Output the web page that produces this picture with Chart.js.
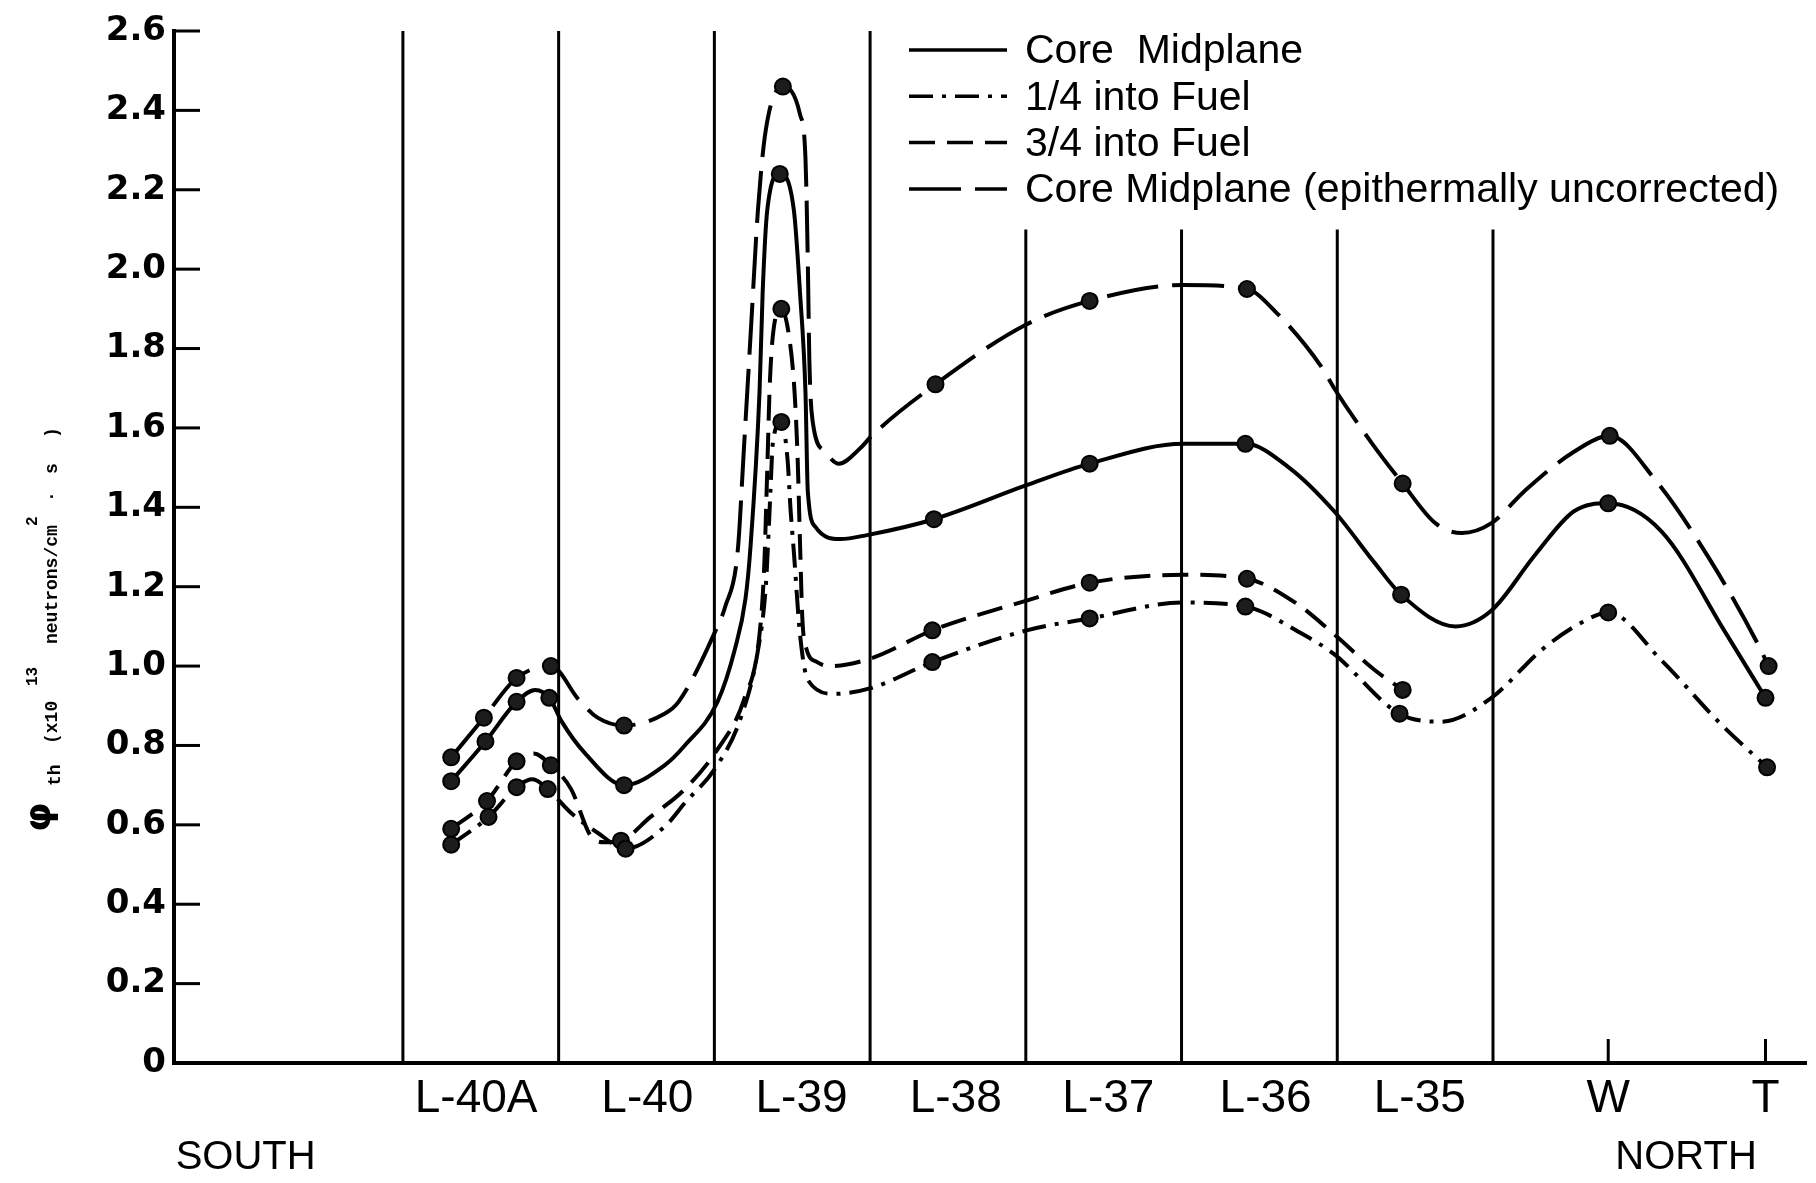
<!DOCTYPE html>
<html>
<head>
<meta charset="utf-8">
<title>Thermal neutron flux traverse</title>
<script src="https://cdn.jsdelivr.net/npm/chart.js@4.4.1/dist/chart.umd.min.js"></script>
<style>
  html, body { margin: 0; padding: 0; background: #fff; }
  #fluxChart { display: block; }
</style>
</head>
<body>
<canvas id="fluxChart" width="1816" height="1183"></canvas>
<script>
// x is the lattice position: 0..7 are the element boundaries L-40A .. L-35
const boundaryX = [0, 1, 2, 3, 4, 5, 6, 7];
const boundaryTop = [2.6, 2.6, 2.6, 2.6, 2.1, 2.1, 2.1, 2.1];

const xTickPos = [-1.01, 0.47, 1.57, 2.56, 3.55, 4.53, 5.54, 6.53, 7.74, 8.24, 8.75];
const xTickLabels = [['', 'SOUTH'], 'L-40A', 'L-40', 'L-39', 'L-38', 'L-37', 'L-36', 'L-35', 'W', ['', 'NORTH'], 'T'];
const tickedLabels = ['W', 'T'];

const yTicks = [0, 0.2, 0.4, 0.6, 0.8, 1.0, 1.2, 1.4, 1.6, 1.8, 2.0, 2.2, 2.4, 2.6];

// Core Midplane
const coreX = [0.31, 0.53, 0.73, 0.85, 0.94, 1.02, 1.17, 1.42, 1.68, 1.81, 2.02, 2.13, 2.20, 2.23, 2.29, 2.31, 2.34, 2.42, 2.51, 2.55, 2.585, 2.60, 2.65, 2.81, 2.98, 3.41, 4.00, 4.41, 5.01, 5.41, 5.69, 5.98, 6.24, 6.41, 6.76, 6.99, 7.27, 7.52, 7.74, 8.08, 8.50, 8.75];
const coreY = [0.71, 0.81, 0.91, 0.94, 0.92, 0.86, 0.78, 0.70, 0.75, 0.80, 0.91, 1.04, 1.17, 1.29, 1.69, 1.94, 2.15, 2.24, 2.15, 1.94, 1.69, 1.44, 1.35, 1.32, 1.33, 1.37, 1.455, 1.51, 1.56, 1.56, 1.50, 1.39, 1.26, 1.18, 1.10, 1.14, 1.28, 1.39, 1.41, 1.34, 1.08, 0.92];
const coreMarkX = [0.31, 0.53, 0.73, 0.94, 1.42, 2.42, 3.41, 4.41, 5.41, 6.41, 7.74, 8.75];
const coreMarkY = [0.71, 0.81, 0.91, 0.92, 0.70, 2.24, 1.37, 1.51, 1.56, 1.18, 1.41, 0.92];

// 1/4 into Fuel
const quarterX = [0.31, 0.55, 0.73, 0.83, 0.93, 1.08, 1.25, 1.43, 1.68, 1.81, 2.01, 2.17, 2.28, 2.33, 2.345, 2.36, 2.375, 2.43, 2.47, 2.49, 2.51, 2.55, 2.60, 2.77, 3.01, 3.40, 4.005, 4.41, 5.01, 5.41, 5.78, 5.98, 6.40, 6.67, 6.99, 7.31, 7.57, 7.74, 8.08, 8.46, 8.76];
const quarterY = [0.55, 0.62, 0.695, 0.715, 0.69, 0.63, 0.58, 0.54, 0.595, 0.655, 0.745, 0.87, 1.04, 1.20, 1.31, 1.44, 1.56, 1.615, 1.52, 1.39, 1.29, 1.08, 0.965, 0.93, 0.945, 1.01, 1.09, 1.12, 1.16, 1.15, 1.08, 1.03, 0.88, 0.86, 0.92, 1.04, 1.11, 1.135, 1.015, 0.855, 0.745];
const quarterMarkX = [0.31, 0.55, 0.73, 0.93, 1.43, 2.43, 3.40, 4.41, 5.41, 6.40, 7.74, 8.76];
const quarterMarkY = [0.55, 0.62, 0.695, 0.69, 0.54, 1.615, 1.01, 1.12, 1.15, 0.88, 1.135, 0.745];

// 3/4 into Fuel
const threeQX = [0.31, 0.54, 0.73, 0.84, 0.95, 1.08, 1.21, 1.30, 1.40, 1.59, 1.81, 2.02, 2.19, 2.29, 2.32, 2.34, 2.355, 2.375, 2.43, 2.48, 2.515, 2.535, 2.55, 2.565, 2.59, 2.66, 2.745, 3.01, 3.40, 4.005, 4.41, 5.01, 5.42, 5.73, 5.98, 6.24, 6.42];
const threeQY = [0.59, 0.66, 0.76, 0.78, 0.75, 0.69, 0.57, 0.556, 0.56, 0.62, 0.69, 0.79, 0.915, 1.08, 1.25, 1.50, 1.70, 1.83, 1.90, 1.83, 1.69, 1.52, 1.31, 1.12, 1.045, 1.01, 1.00, 1.02, 1.09, 1.165, 1.21, 1.23, 1.22, 1.16, 1.08, 0.99, 0.94];
const threeQMarkX = [0.31, 0.54, 0.73, 0.95, 1.40, 2.43, 3.40, 4.41, 5.42, 6.42];
const threeQMarkY = [0.59, 0.66, 0.76, 0.75, 0.56, 1.90, 1.09, 1.21, 1.22, 0.94];

// Core Midplane (epithermally uncorrected)
const uncorrX = [0.31, 0.52, 0.73, 0.95, 1.13, 1.25, 1.42, 1.68, 1.77, 2.02, 2.07, 2.15, 2.19, 2.235, 2.28, 2.33, 2.44, 2.55, 2.585, 2.60, 2.61, 2.63, 2.71, 2.80, 2.94, 3.01, 3.42, 4.00, 4.41, 5.01, 5.42, 5.61, 5.905, 5.98, 6.225, 6.42, 6.63, 6.80, 6.99, 7.20, 7.52, 7.75, 8.04, 8.39, 8.695, 8.77];
const uncorrY = [0.77, 0.87, 0.97, 1.00, 0.915, 0.87, 0.85, 0.88, 0.91, 1.10, 1.15, 1.29, 1.55, 1.85, 2.15, 2.35, 2.46, 2.39, 2.28, 2.02, 1.77, 1.62, 1.54, 1.51, 1.55, 1.58, 1.71, 1.86, 1.92, 1.96, 1.95, 1.89, 1.75, 1.70, 1.56, 1.46, 1.36, 1.335, 1.36, 1.44, 1.54, 1.58, 1.47, 1.27, 1.06, 1.00];
const uncorrMarkX = [0.31, 0.52, 0.73, 0.95, 1.42, 2.44, 3.42, 4.41, 5.42, 6.42, 7.75, 8.77];
const uncorrMarkY = [0.77, 0.87, 0.97, 1.00, 0.85, 2.46, 1.71, 1.92, 1.95, 1.46, 1.58, 1.00];

function toPoints(xs, ys) {
    return xs.map((x, i) => ({ x: x, y: ys[i] }));
}

function curve(label, xs, ys, dash) {
    return {
        label: label,
        isCurve: true,
        data: toPoints(xs, ys),
        borderColor: '#000',
        borderWidth: 4,
        borderDash: dash,
        cubicInterpolationMode: 'monotone',
        pointRadius: 0,
        fill: false,
        order: 1
    };
}

function markers(xs, ys) {
    return {
        data: toPoints(xs, ys),
        showLine: false,
        pointRadius: 8,
        pointBorderWidth: 2,
        pointBackgroundColor: '#1c1c1c',
        pointBorderColor: '#000',
        order: 0
    };
}

// element boundaries, one vertical segment each (null breaks the line)
const boundaryPoints = [];
boundaryX.forEach((x, i) => {
    boundaryPoints.push({ x: x, y: 0 }, { x: x, y: boundaryTop[i] }, { x: x, y: null });
});

const furniture = {
    id: 'furniture',
    afterDraw(chart) {
        const ctx = chart.ctx;
        const area = chart.chartArea;
        const xs = chart.scales.x;
        const ys = chart.scales.y;
        ctx.save();
        ctx.strokeStyle = '#000';
        ctx.fillStyle = '#000';

        // inward y ticks
        ctx.lineWidth = 3;
        yTicks.forEach(v => {
            if (v === 0) return;
            const py = ys.getPixelForValue(v);
            ctx.beginPath();
            ctx.moveTo(area.left, py);
            ctx.lineTo(area.left + 26, py);
            ctx.stroke();
        });

        // tick marks for W and T
        tickedLabels.forEach(lbl => {
            const px = xs.getPixelForValue(xTickPos[xTickLabels.indexOf(lbl)]);
            ctx.beginPath();
            ctx.moveTo(px, area.bottom);
            ctx.lineTo(px, area.bottom - 24);
            ctx.stroke();
        });

        // y axis title, rotated
        ctx.save();
        ctx.rotate(-Math.PI / 2);
        ctx.textBaseline = 'alphabetic';
        ctx.textAlign = 'left';
        ctx.font = 'bold 38px "DejaVu Sans"';
        ctx.fillText('\u03c6', -832, 50);
        ctx.font = 'bold 18px "Liberation Mono"';
        ctx.fillText('th', -786, 60);
        ctx.fillText('(x10', -744, 57);
        ctx.fillText('neutrons/cm', -644, 57);
        ctx.fillText('\u00b7', -502, 57);
        ctx.fillText('s', -474, 57);
        ctx.fillText(')', -438, 57);
        ctx.font = 'bold 16px "Liberation Mono"';
        ctx.fillText('13', -686, 37);
        ctx.fillText('2', -526, 37);
        ctx.restore();

        // legend
        ctx.font = '41px "Liberation Sans"';
        ctx.textBaseline = 'middle';
        ctx.lineWidth = 3.5;
        chart.data.datasets.filter(d => d.isCurve).forEach((ds, i) => {
            const y = 50 + i * 46.3;
            ctx.setLineDash(ds.borderDash || []);
            ctx.beginPath();
            ctx.moveTo(909, y);
            ctx.lineTo(1007, y);
            ctx.stroke();
            ctx.setLineDash([]);
            ctx.fillText(ds.label, 1025, y + 2);
        });
        ctx.restore();
    }
};

const chart = new Chart(document.getElementById('fluxChart'), {
    type: 'line',
    data: {
        datasets: [
            markers(coreMarkX, coreMarkY),
            markers(quarterMarkX, quarterMarkY),
            markers(threeQMarkX, threeQMarkY),
            markers(uncorrMarkX, uncorrMarkY),
            curve('Core  Midplane', coreX, coreY, []),
            curve('1/4 into Fuel', quarterX, quarterY, [24, 9, 4, 9]),
            curve('3/4 into Fuel', threeQX, threeQY, [26, 12]),
            curve('Core Midplane (epithermally uncorrected)', uncorrX, uncorrY, [52, 14]),
            {
                data: boundaryPoints,
                borderColor: '#000',
                borderWidth: 3,
                pointRadius: 0,
                spanGaps: false,
                tension: 0,
                order: 2
            }
        ]
    },
    options: {
        responsive: false,
        animation: false,
        layout: { padding: { left: 0, top: 31, right: 4, bottom: 0 } },
        plugins: {
            legend: { display: false },
            tooltip: { enabled: false }
        },
        scales: {
            x: {
                type: 'linear',
                min: -1.47,
                max: 9.01,
                grid: { display: false, drawTicks: false },
                border: { display: true, color: '#000', width: 4 },
                afterBuildTicks: s => { s.ticks = xTickPos.map(v => ({ value: v })); },
                afterFit: s => { s.height = 120; },
                ticks: {
                    autoSkip: false,
                    maxRotation: 0,
                    padding: 9,
                    color: '#000',
                    callback: (v, i) => xTickLabels[i],
                    font: c => Array.isArray(xTickLabels[c.index])
                        ? { family: '"Liberation Sans"', size: 40, lineHeight: 1.43 }
                        : { family: '"Liberation Sans"', size: 46, lineHeight: 1.2 }
                }
            },
            y: {
                min: 0,
                max: 2.6,
                grid: { display: false, drawTicks: false },
                border: { display: true, color: '#000', width: 4 },
                afterBuildTicks: s => { s.ticks = yTicks.map(v => ({ value: v })); },
                afterFit: s => { s.width = 174; },
                ticks: {
                    padding: 8,
                    color: '#000',
                    font: { family: '"DejaVu Sans"', size: 34, weight: 'bold' },
                    callback: v => (v === 0 ? '0' : v.toFixed(1))
                }
            }
        }
    },
    plugins: [furniture]
});
</script>
</body>
</html>
